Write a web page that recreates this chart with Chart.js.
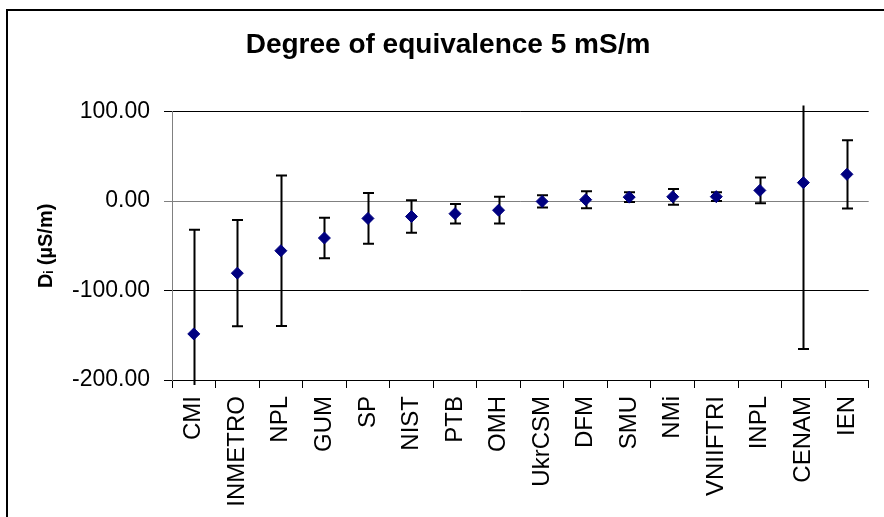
<!DOCTYPE html>
<html>
<head>
<meta charset="utf-8">
<script src="https://cdn.jsdelivr.net/npm/chart.js@4/dist/chart.umd.min.js"></script>
<style>
  html, body { margin: 0; padding: 0; background: #fff; overflow: hidden; }
  #wrap { width: 884px; height: 517px; position: relative; }
</style>
</head>
<body>
<div id="wrap"><canvas id="doe-canvas"></canvas></div>
<script>
// participants, in the order they appear on the axis
var labs = ['CMI', 'INMETRO', 'NPL', 'GUM', 'SP', 'NIST', 'PTB', 'OMH', 'UkrCSM',
            'DFM', 'SMU', 'NMi', 'VNIIFTRI', 'INPL', 'CENAM', 'IEN'];
// degree of equivalence D_i (uS/m)
var di = [-148.5, -80.6, -55.5, -41.3, -19.4, -17.3, -14.1, -10.2, -0.4,
          1.5, 4.4, 4.8, 4.9, 11.9, 20.6, 29.9];
// expanded uncertainty U_i (uS/m), drawn as +/- error bars
var ui = [116.5, 59.4, 84.2, 22.6, 28.4, 18.1, 10.9, 14.9, 6.8,
          9.4, 5.4, 8.8, 4.9, 14.4, 185.9, 38.1];
var yTicks = [-200, -100, 0, 100];

var FONT = 'Arial, "Liberation Sans", sans-serif';

var frame = {
    id: 'frame',
    beforeDraw: function(chart) {
        var ctx = chart.ctx;
        ctx.save();
        ctx.fillStyle = '#fff';
        ctx.fillRect(0, 0, chart.width, chart.height);
        ctx.strokeStyle = '#000';
        ctx.lineWidth = 2;
        ctx.strokeRect(7, 10, 1000, 1000);
        ctx.restore();
    }
};

// error bars, drawn under the markers
var errBars = {
    id: 'errBars',
    beforeDatasetsDraw: function(chart) {
        var ctx = chart.ctx;
        var xs = chart.scales.x, ys = chart.scales.y;
        var area = chart.chartArea;
        ctx.save();
        ctx.strokeStyle = '#000';
        ctx.lineWidth = 2;
        for (var i = 0; i < di.length; i++) {
            var x = Math.round(xs.getPixelForValue(i)) + 0.5;
            var yHi = ys.getPixelForValue(di[i] + ui[i]);
            var yLo = ys.getPixelForValue(di[i] - ui[i]);
            var top = Math.max(yHi, area.top - 6);
            var bot = Math.min(yLo, area.bottom + 5);
            ctx.beginPath();
            ctx.moveTo(x, top);
            ctx.lineTo(x, bot);
            if (yHi >= area.top - 6) {
                ctx.moveTo(x - 5.5, yHi);
                ctx.lineTo(x + 5.5, yHi);
            }
            if (yLo <= area.bottom + 5) {
                ctx.moveTo(x - 5.5, yLo);
                ctx.lineTo(x + 5.5, yLo);
            }
            ctx.stroke();
        }
        ctx.restore();
    }
};

window.onload = function() {
    var ctx = document.getElementById('doe-canvas').getContext('2d');
    window.doeChart = new Chart(ctx, {
        type: 'line',
        data: {
            labels: labs,
            datasets: [{
                label: 'Di',
                data: di,
                showLine: false,
                pointStyle: 'rectRot',
                pointRadius: 6,
                pointHoverRadius: 6,
                pointBackgroundColor: '#000080',
                pointBorderColor: '#000080',
                pointBorderWidth: 1
            }]
        },
        options: {
            responsive: true,
            maintainAspectRatio: false,
            animation: false,
            layout: { padding: { left: 21, right: 9, top: 0, bottom: 0 } },
            plugins: {
                legend: { display: false },
                tooltip: { enabled: false },
                title: {
                    display: true,
                    text: 'Degree of equivalence 5 mS/m',
                    color: '#000',
                    font: { family: FONT, size: 28, weight: 'bold' },
                    padding: { top: 28, bottom: 50 }
                }
            },
            scales: {
                x: {
                    type: 'category',
                    offset: true,
                    afterFit: function(s) { s.height = 137; },
                    grid: {
                        offset: true,
                        drawOnChartArea: false,
                        drawTicks: true,
                        tickLength: 8,
                        color: '#000'
                    },
                    border: { color: '#000', width: 1 },
                    ticks: {
                        autoSkip: false,
                        minRotation: 90,
                        maxRotation: 90,
                        padding: 8,
                        color: '#000',
                        font: { family: FONT, size: 24 }
                    }
                },
                y: {
                    min: -200,
                    max: 100,
                    afterFit: function(s) { s.width = 151; },
                    afterBuildTicks: function(s) {
                        s.ticks = yTicks.map(function(v) { return { value: v }; });
                    },
                    grid: {
                        drawTicks: true,
                        tickLength: 8,
                        color: function(c) { return c.tick && c.tick.value === 0 ? '#808080' : '#000'; }
                    },
                    border: { color: '#808080', width: 1 },
                    ticks: {
                        padding: 14,
                        color: '#000',
                        font: { family: FONT, size: 23 },
                        callback: function(v) { return Number(v).toFixed(2); }
                    },
                    title: {
                        display: true,
                        text: 'D\u1d62 (\u00b5S/m)',
                        color: '#000',
                        font: { family: FONT + ', "DejaVu Sans"', size: 20, weight: 'bold' },
                        padding: { top: 13, bottom: 0 }
                    }
                }
            }
        },
        plugins: [frame, errBars]
    });
};
</script>
</body>
</html>
